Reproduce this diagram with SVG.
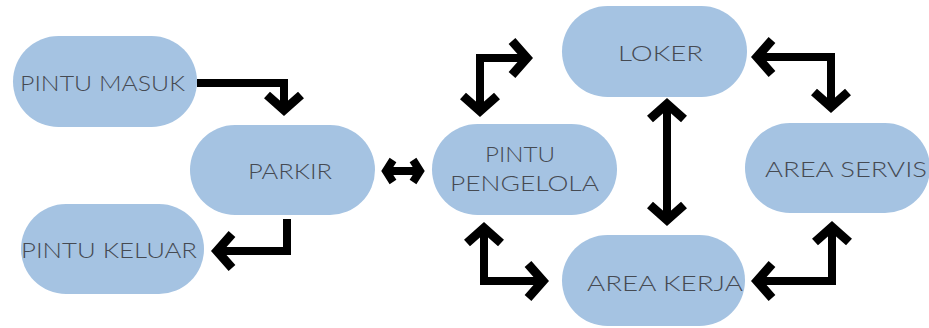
<svg xmlns="http://www.w3.org/2000/svg" width="929" height="328" viewBox="0 0 929 328">
<style>
.n{fill:#a5c3e2}
.t{font-family:Lato,"Liberation Sans",sans-serif;font-weight:300;font-size:22px;fill:#454a52}
.c{fill:none;stroke:#000;stroke-width:8;stroke-linejoin:miter}
</style>
<defs>
<marker id="ah" markerUnits="userSpaceOnUse" markerWidth="60" markerHeight="60" viewBox="-30 -30 60 60" refX="-8" refY="0" orient="auto-start-reverse" overflow="visible">
<path d="M-20,-17 L-5,0 L-20,17" fill="none" stroke="#000" stroke-width="9" stroke-linejoin="miter"/>
</marker>
<marker id="ahs" markerUnits="userSpaceOnUse" markerWidth="40" markerHeight="40" viewBox="-20 -20 40 40" refX="-6" refY="0" orient="auto-start-reverse" overflow="visible">
<path d="M-11,-11 L-4,0 L-11,11" fill="none" stroke="#000" stroke-width="8" stroke-linejoin="miter"/>
</marker>
</defs>
<rect width="929" height="328" fill="#fff"/>
<g id="connectors">
<path class="c" d="M197,83 H284 V107" marker-end="url(#ah)"/>
<path class="c" d="M388,171 H418" marker-start="url(#ahs)" marker-end="url(#ahs)"/>
<path class="c" d="M287,219 V251 H220" marker-end="url(#ah)"/>
<path class="c" d="M480,108 V58 H524" marker-start="url(#ah)" marker-end="url(#ah)"/>
<path class="c" d="M484,231 V281 H540" marker-start="url(#ah)" marker-end="url(#ah)"/>
<path class="c" d="M667,107 V217" marker-start="url(#ah)" marker-end="url(#ah)"/>
<path class="c" d="M760,57 H831 V104" marker-start="url(#ah)" marker-end="url(#ah)"/>
<path class="c" d="M760,281 H832 V230" marker-start="url(#ah)" marker-end="url(#ah)"/>
</g>
<g id="pintu-masuk"><rect class="n" x="13" y="36" width="184" height="91" rx="45.5"/><text class="t" x="20" y="91" textLength="165" lengthAdjust="spacingAndGlyphs">PINTU MASUK</text></g>
<g id="parkir"><rect class="n" x="190" y="125" width="185" height="90" rx="45"/><text class="t" x="248" y="179" textLength="84" lengthAdjust="spacingAndGlyphs">PARKIR</text></g>
<g id="pintu-keluar"><rect class="n" x="21" y="204" width="183" height="90" rx="45"/><text class="t" x="21" y="258" textLength="176" lengthAdjust="spacingAndGlyphs">PINTU KELUAR</text></g>
<g id="pintu-pengelola"><rect class="n" x="432" y="124" width="185" height="91" rx="45.5"/><text class="t" x="485" y="162" textLength="70" lengthAdjust="spacingAndGlyphs">PINTU</text><text class="t" x="450" y="191" textLength="149" lengthAdjust="spacingAndGlyphs">PENGELOLA</text></g>
<g id="loker"><rect class="n" x="562" y="6" width="185" height="91" rx="45.5"/><text class="t" x="618" y="61" textLength="85" lengthAdjust="spacingAndGlyphs">LOKER</text></g>
<g id="area-servis"><rect class="n" x="745" y="123" width="185" height="90" rx="45"/><text class="t" x="765" y="177" textLength="162" lengthAdjust="spacingAndGlyphs">AREA SERVIS</text></g>
<g id="area-kerja"><rect class="n" x="562" y="235" width="183" height="91" rx="45.5"/><text class="t" x="587" y="291" textLength="156" lengthAdjust="spacingAndGlyphs">AREA KERJA</text></g>
</svg>
